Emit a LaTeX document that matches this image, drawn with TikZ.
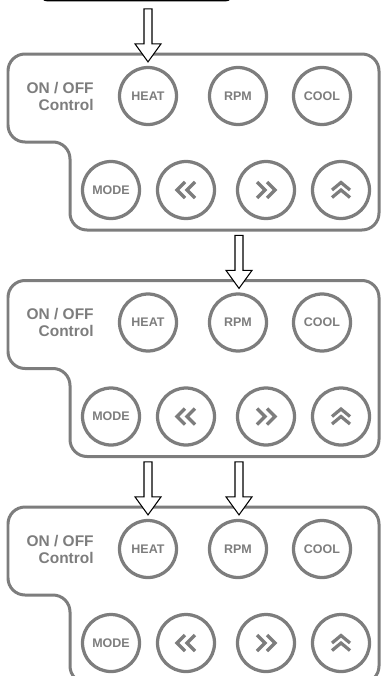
\documentclass[tikz,border=0pt]{standalone}
\usepackage{fontspec}
\setmainfont{Liberation Sans}
\usepackage{tikz}

\definecolor{keygray}{RGB}{125,125,125}

\tikzset{
	panel/.style={draw=keygray, line width=0.06cm, rounded corners=0.34cm},
	btn/.style={circle, draw=keygray, line width=0.065cm, minimum size=1.14cm, inner sep=0pt,
		text=keygray, font=\bfseries\fontsize{7.1}{8}\selectfont},
	onoff/.style={align=right, inner sep=0pt, text=keygray, font=\bfseries\fontsize{8.8}{9.7}\selectfont},
	chev/.style={draw=keygray, line width=0.065cm},
	hollow/.style={draw=black, fill=white, line width=0.6pt}
}

\begin{document}
\begin{tikzpicture}[x=0.02cm, y=-0.02cm]
		\useasboundingbox (0,0) rectangle (380,676);
		% box above, cut off
		\draw[black, line width=0.04cm, rounded corners=0.16cm] (40,-30) rectangle (233,0.5);

		% panel 1
		\draw[panel] (8,100) -- (8,54) -- (379,54) -- (379,230) -- (70,230) -- (70,142) -- (8,142) -- cycle;
		\node[onoff, anchor=east] (onoff1) at (94,96) {ON / OFF\\Control};
		\node[btn] (heat1) at (148,96) {HEAT};
		\node[btn] (rpm1) at (238,96) {RPM};
		\node[btn] (cool1) at (322,96) {COOL};
		\node[btn] (mode1) at (111,190) {MODE};
		\node[btn] (back1) at (186,190) { };
		\node[btn] (fwd1) at (266,190) { };
		\node[btn] (up1) at (341,190) { };
		\draw[chev] ([shift={(-1,-8)}]back1.center) -- ++(-8,8) -- ++(8,8) ([shift={(9,-8)}]back1.center) -- ++(-8,8) -- ++(8,8);
		\draw[chev] ([shift={(1,-8)}]fwd1.center) -- ++(8,8) -- ++(-8,8) ([shift={(-9,-8)}]fwd1.center) -- ++(8,8) -- ++(-8,8);
		\draw[chev] ([shift={(-9,0)}]up1.center) -- ++(9,-7.5) -- ++(9,7.5) ([shift={(-9,7.5)}]up1.center) -- ++(9,-7.5) -- ++(9,7.5);
		\draw[hollow] (heat1.north) ++(0,-4) -- ++(-13,-18) -- ++(9,0) -- ++(0,-35) -- ++(8,0) -- ++(0,35) -- ++(9,0) -- cycle;

		% panel 2
		\begin{scope}[shift={(0,226.5)}]
		\draw[panel] (8,100) -- (8,54) -- (379,54) -- (379,230) -- (70,230) -- (70,142) -- (8,142) -- cycle;
		\node[onoff, anchor=east] (onoff2) at (94,96) {ON / OFF\\Control};
		\node[btn] (heat2) at (148,96) {HEAT};
		\node[btn] (rpm2) at (238,96) {RPM};
		\node[btn] (cool2) at (322,96) {COOL};
		\node[btn] (mode2) at (111,190) {MODE};
		\node[btn] (back2) at (186,190) { };
		\node[btn] (fwd2) at (266,190) { };
		\node[btn] (up2) at (341,190) { };
		\draw[chev] ([shift={(-1,-8)}]back2.center) -- ++(-8,8) -- ++(8,8) ([shift={(9,-8)}]back2.center) -- ++(-8,8) -- ++(8,8);
		\draw[chev] ([shift={(1,-8)}]fwd2.center) -- ++(8,8) -- ++(-8,8) ([shift={(-9,-8)}]fwd2.center) -- ++(8,8) -- ++(-8,8);
		\draw[chev] ([shift={(-9,0)}]up2.center) -- ++(9,-7.5) -- ++(9,7.5) ([shift={(-9,7.5)}]up2.center) -- ++(9,-7.5) -- ++(9,7.5);
		\draw[hollow] (rpm2.north) ++(1,-4) -- ++(-13,-18) -- ++(9,0) -- ++(0,-35) -- ++(8,0) -- ++(0,35) -- ++(9,0) -- cycle;
		\end{scope}

		% panel 3
		\begin{scope}[shift={(0,453)}]
		\draw[panel] (8,100) -- (8,54) -- (379,54) -- (379,230) -- (70,230) -- (70,142) -- (8,142) -- cycle;
		\node[onoff, anchor=east] (onoff3) at (94,96) {ON / OFF\\Control};
		\node[btn] (heat3) at (148,96) {HEAT};
		\node[btn] (rpm3) at (238,96) {RPM};
		\node[btn] (cool3) at (322,96) {COOL};
		\node[btn] (mode3) at (111,190) {MODE};
		\node[btn] (back3) at (186,190) { };
		\node[btn] (fwd3) at (266,190) { };
		\node[btn] (up3) at (341,190) { };
		\draw[chev] ([shift={(-1,-8)}]back3.center) -- ++(-8,8) -- ++(8,8) ([shift={(9,-8)}]back3.center) -- ++(-8,8) -- ++(8,8);
		\draw[chev] ([shift={(1,-8)}]fwd3.center) -- ++(8,8) -- ++(-8,8) ([shift={(-9,-8)}]fwd3.center) -- ++(8,8) -- ++(-8,8);
		\draw[chev] ([shift={(-9,0)}]up3.center) -- ++(9,-7.5) -- ++(9,7.5) ([shift={(-9,7.5)}]up3.center) -- ++(9,-7.5) -- ++(9,7.5);
		\draw[hollow] (heat3.north) ++(0,-4) -- ++(-13,-18) -- ++(9,0) -- ++(0,-35) -- ++(8,0) -- ++(0,35) -- ++(9,0) -- cycle;
		\draw[hollow] (rpm3.north) ++(1,-4) -- ++(-13,-18) -- ++(9,0) -- ++(0,-35) -- ++(8,0) -- ++(0,35) -- ++(9,0) -- cycle;
		\end{scope}
	\end{tikzpicture}
\end{document}
